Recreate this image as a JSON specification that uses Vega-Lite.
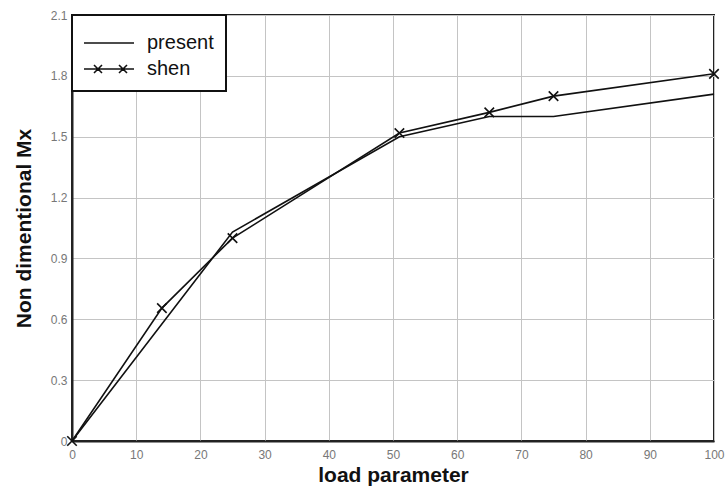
{
  "$schema": "https://vega.github.io/schema/vega-lite/v6.json",
  "autosize": {"type": "none"},
  "padding": {"left": 72, "top": 15, "right": 13, "bottom": 58},
  "width": 642,
  "height": 426,
  "background": "white",
  "config": {
    "font": "Liberation Sans",
    "view": {"stroke": "#222", "strokeWidth": 2},
    "axis": {
      "grid": true,
      "gridColor": "#c4c4c4",
      "gridWidth": 1,
      "domainColor": "#222",
      "domainWidth": 2,
      "ticks": false,
      "labelColor": "#777",
      "labelFontSize": 12,
      "titleColor": "#111",
      "titleFontWeight": "bold"
    }
  },
  "data": {
    "values": [
      {"load": 0, "mx": 0, "series": "present"},
      {"load": 25, "mx": 1.03, "series": "present"},
      {"load": 51, "mx": 1.5, "series": "present"},
      {"load": 65, "mx": 1.6, "series": "present"},
      {"load": 75, "mx": 1.6, "series": "present"},
      {"load": 100, "mx": 1.71, "series": "present"},
      {"load": 0, "mx": 0, "series": "shen"},
      {"load": 14, "mx": 0.655, "series": "shen"},
      {"load": 25, "mx": 1.0, "series": "shen"},
      {"load": 51, "mx": 1.518, "series": "shen"},
      {"load": 65, "mx": 1.62, "series": "shen"},
      {"load": 75, "mx": 1.7, "series": "shen"},
      {"load": 100, "mx": 1.81, "series": "shen"}
    ]
  },
  "layer": [
    {
      "mark": {"type": "line", "strokeWidth": 1.6, "clip": false},
      "encoding": {
        "x": {
          "field": "load", "type": "quantitative",
          "scale": {"domain": [0, 100], "nice": false},
          "axis": {"values": [0,10,20,30,40,50,60,70,80,90,100], "title": "load parameter", "titleFontSize": 21, "labelPadding": 8, "titlePadding": 4, "labelFlush": false}
        },
        "y": {
          "field": "mx", "type": "quantitative",
          "scale": {"domain": [0, 2.1], "nice": false},
          "axis": {"values": [0,0.3,0.6,0.9,1.2,1.5,1.8,2.1], "format": ".1~f", "title": "Non dimentional Mx", "titleFontSize": 21, "labelPadding": 5, "titlePadding": 16, "labelFlush": false}
        },
        "color": {
          "field": "series", "type": "nominal",
          "scale": {"domain": ["present", "shen"], "range": ["#111", "#111"]},
          "legend": {
            "title": null,
            "orient": "top-left",
            "offset": 0,
            "padding": 12,
            "fillColor": "white",
            "strokeColor": "#111",
            "symbolSize": 900,
            "symbolStrokeWidth": 1.6,
            "rowPadding": -9,
            "labelOffset": 31,
            "labelFontSize": 20,
            "labelColor": "#111",
            "encode": {
              "legend": {"update": {"strokeWidth": {"value": 2}}},
              "symbols": {
                "update": {
                  "shape": {"signal": "datum.value === 'shen' ? 'M-1.067,0H2.267M-0.4,-0.267L0.133,0.267M-0.4,0.267L0.133,-0.267M1.267,-0.267L1.8,0.267M1.267,0.267L1.8,-0.267' : 'M-1.067,0H2.267'"}
                }
              }
            }
          }
        }
      }
    },
    {
      "transform": [{"filter": "datum.series === 'shen'"}],
      "mark": {"type": "point", "shape": "M-1,-1L1,1M-1,1L1,-1", "size": 90, "filled": false, "stroke": "#111", "strokeWidth": 1.6, "opacity": 1, "clip": false},
      "encoding": {
        "x": {"field": "load", "type": "quantitative"},
        "y": {"field": "mx", "type": "quantitative"}
      }
    }
  ]
}
